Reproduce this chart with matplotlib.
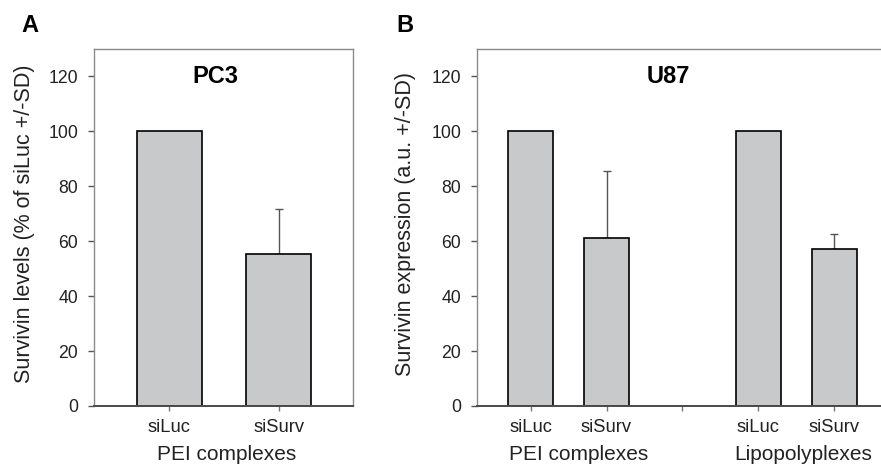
import numpy as np
import matplotlib
matplotlib.use("agg")
import matplotlib.pyplot as plt

plt.rcParams['font.family'] = ['Liberation Sans', 'DejaVu Sans']

# panel A: PC3
pc3_labels = ["siLuc", "siSurv"]
pc3_values = [100, 55.3]
pc3_err = [0, 16.4]

# panel B: U87
u87_labels = ["siLuc", "siSurv", "siLuc", "siSurv"]
u87_pos = [0, 1, 3, 4]
u87_values = [100, 61.2, 100, 57.0]
u87_err = [0, 24.3, 0, 5.5]

bar_color = "#c8c9cb"
frame_color = "#8a8a8a"
text_color = "#222222"

fig = plt.figure(figsize=(8.81, 4.68), dpi=100)
W, H = 881, 468

def make_ax(l, r):
    return fig.add_axes([l / W, 1 - 406 / H, (r - l) / W, (406 - 49) / H])

def style(ax):
    for s in ["top", "right", "left"]:
        ax.spines[s].set_color(frame_color)
        ax.spines[s].set_linewidth(1.0)
    ax.spines["bottom"].set_color("#4a4a4a")
    ax.spines["bottom"].set_linewidth(1.4)
    ax.set_ylim(0, 130)
    ax.set_yticks(np.arange(0, 121, 20))
    ax.tick_params(axis="y", length=4.3, width=1, color="#555555", labelsize=12.7,
                   pad=7, labelcolor=text_color)
    ax.tick_params(axis="x", length=3.6, width=1, color="#777777", labelsize=13.2,
                   pad=6, labelcolor=text_color)

def draw_bars(ax, pos, vals, errs):
    ax.bar(pos, vals, width=0.6, color=bar_color, edgecolor="black", linewidth=1.2, zorder=2)
    for p, v, e in zip(pos, vals, errs):
        if e > 0:
            ax.errorbar([p], [v], yerr=[[0], [e]], fmt="none", ecolor="#555555",
                        elinewidth=1.0, capsize=3, capthick=1.0, zorder=1)

group_y = -17.8

# A
axA = make_ax(94, 353)
draw_bars(axA, [0, 1], pc3_values, pc3_err)
axA.set_xlim(-0.69, 1.68)
axA.set_xticks([0, 1])
axA.set_xticklabels(pc3_labels)
style(axA)
axA.set_ylabel("Survivin levels (% of siLuc +/-SD)", fontsize=15.5, color=text_color, va="center")
axA.yaxis.set_label_coords((25 - 94) / 259, 0.51)
axA.text(0.42, 120, "PC3", fontsize=17, fontweight="bold", ha="center", va="center")
axA.text(0.52, group_y, "PEI complexes", fontsize=15, ha="center", va="center", color=text_color)
fig.text(30 / W, 1 - 25 / H, "A", fontsize=17, fontweight="bold", ha="center", va="center")

# B
axB = make_ax(477, 883)
draw_bars(axB, u87_pos, u87_values, u87_err)
axB.set_xlim(-0.705, 4.64)
axB.set_xticks([0, 1, 2, 3, 4])
axB.set_xticklabels([u87_labels[0], u87_labels[1], "", u87_labels[2], u87_labels[3]])
style(axB)
axB.set_ylabel("Survivin expression (a.u. +/-SD)", fontsize=15.5, color=text_color, va="center")
axB.yaxis.set_label_coords((405 - 477) / 406, 0.51)
axB.text(1.82, 120, "U87", fontsize=17, fontweight="bold", ha="center", va="center")
axB.text(0.63, group_y, "PEI complexes", fontsize=15, ha="center", va="center", color=text_color)
axB.text(3.59, group_y, "Lipopolyplexes", fontsize=15, ha="center", va="center", color=text_color)
fig.text(405 / W, 1 - 25 / H, "B", fontsize=17, fontweight="bold", ha="center", va="center")

fig.savefig("out.png", dpi=100)
